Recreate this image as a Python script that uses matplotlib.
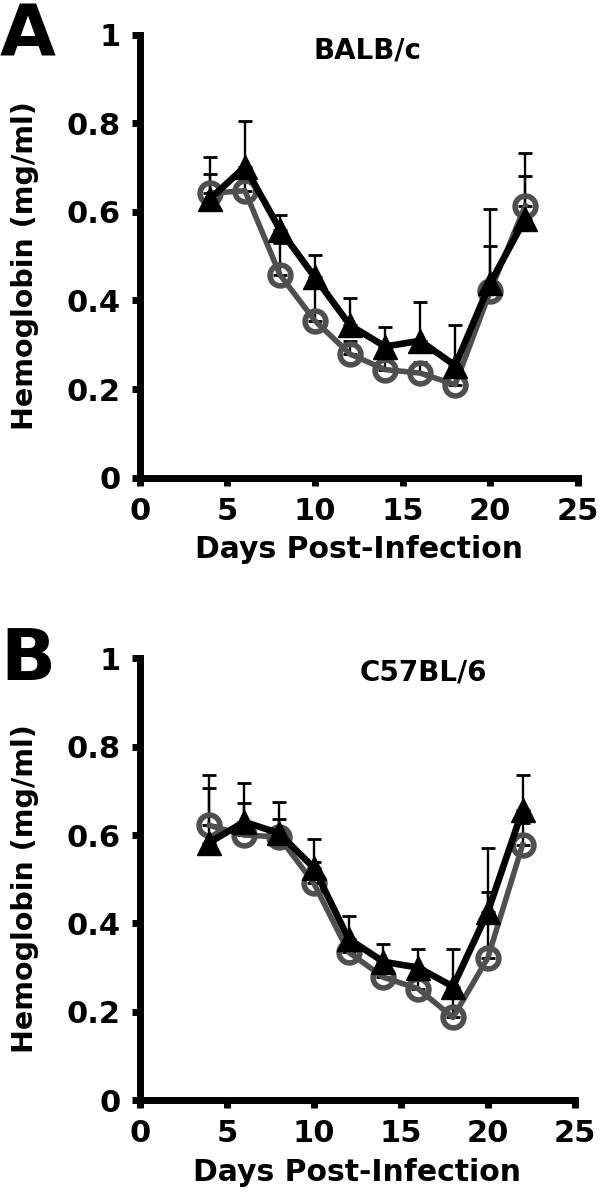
import matplotlib
matplotlib.use("Agg")
import matplotlib.pyplot as plt

plt.rcParams['font.family'] = ['DejaVu Sans']
plt.rcParams['font.weight'] = 'bold'

days = [4, 6, 8, 10, 12, 14, 16, 18, 20, 22]

# Panel A: BALB/c
a_circle = [0.642, 0.648, 0.458, 0.354, 0.279, 0.244, 0.236, 0.210, 0.421, 0.614]
a_circle_err = [0.083, 0.037, 0.072, 0.085, 0.030, 0.030, 0.025, 0.030, 0.102, 0.120]
a_tri = [0.629, 0.702, 0.560, 0.452, 0.344, 0.296, 0.309, 0.253, 0.439, 0.585]
a_tri_err = [0.057, 0.104, 0.034, 0.051, 0.062, 0.043, 0.087, 0.092, 0.168, 0.095]

# Panel B: C57BL/6
b_circle = [0.622, 0.600, 0.596, 0.491, 0.335, 0.278, 0.252, 0.187, 0.322, 0.578]
b_circle_err = [0.085, 0.072, 0.041, 0.048, 0.015, 0.020, 0.020, 0.060, 0.148, 0.050]
b_tri = [0.583, 0.630, 0.604, 0.526, 0.365, 0.313, 0.300, 0.257, 0.426, 0.657]
b_tri_err = [0.152, 0.087, 0.072, 0.065, 0.052, 0.041, 0.043, 0.086, 0.145, 0.078]

xticks = [0, 5, 10, 15, 20, 25]
yticks = [0, 0.2, 0.4, 0.6, 0.8, 1.0]
ytick_labels = ['0', '0.2', '0.4', '0.6', '0.8', '1']

GRAY = '#4f4f4f'

fig = plt.figure(figsize=(6, 12), dpi=100)

panels = [
    ([0.233, 0.602, 0.730, 0.369], 'A', 'BALB/c', (13.0, 0.965),
     a_circle, a_circle_err, a_tri, a_tri_err, 0.999),
    ([0.233, 0.0833, 0.725, 0.368], 'B', 'C57BL/6', (16.3, 0.968),
     b_circle, b_circle_err, b_tri, b_tri_err, 0.478),
]

for rect, letter, title, tpos, circ, circ_err, tri, tri_err, ly in panels:
    ax = fig.add_axes(rect)
    zeros = [0] * len(days)
    ax.errorbar(days, circ, yerr=[zeros, circ_err], fmt='none', ecolor='black',
                elinewidth=1.7, capsize=5, capthick=2, zorder=1, clip_on=False)
    ax.errorbar(days, tri, yerr=[zeros, tri_err], fmt='none', ecolor='black',
                elinewidth=1.7, capsize=5, capthick=2, zorder=1, clip_on=False)
    ax.plot(days, circ, color=GRAY, lw=4, marker='o', ms=15, mfc='none',
            mec=GRAY, mew=4, zorder=2, clip_on=False)
    ax.plot(days, tri, color='black', lw=4.8, marker='^', ms=17, mfc='black',
            mec='black', mew=1, zorder=3, clip_on=False)

    ax.set_xlim(0, 25)
    ax.set_ylim(0, 1)
    ax.set_xticks(xticks)
    ax.set_yticks(yticks)
    ax.set_yticklabels(ytick_labels)
    for s in ['top', 'right']:
        ax.spines[s].set_visible(False)
    for s in ['left', 'bottom']:
        ax.spines[s].set_linewidth(5)
        ax.spines[s].set_capstyle('projecting')
    ax.tick_params(axis='both', direction='out', length=6, width=5,
                   labelsize=22, pad=8)
    for lab in ax.get_xticklabels() + ax.get_yticklabels():
        lab.set_fontweight('bold')
    ax.set_xlabel('Days Post-Infection', fontsize=21.5, fontweight='bold', va='center')
    ax.xaxis.set_label_coords(0.5, -0.163)
    ax.set_ylabel('Hemoglobin (mg/ml)', fontsize=20.5, fontweight='bold', va='center')
    ax.yaxis.set_label_coords(-0.263, 0.478)
    ax.text(tpos[0], tpos[1], title, fontsize=20, fontweight='bold',
            ha='center', va='center')
    fig.text(0.0, ly, letter, fontsize=52, fontweight='bold', ha='left', va='top')

fig.savefig('out.png', dpi=100)
